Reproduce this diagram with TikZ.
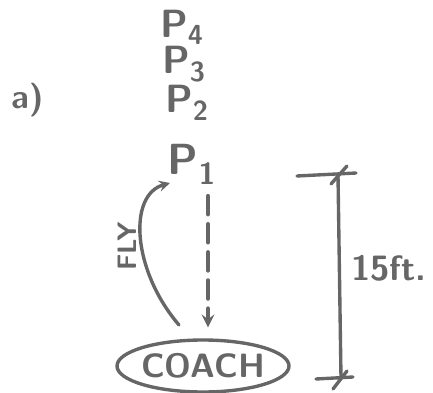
\documentclass[tikz,border=0pt]{standalone}
\definecolor{ink}{HTML}{666666}
\newcommand{\hand}[1]{\fontsize{#1}{#1}\selectfont\sffamily\bfseries}
\begin{document}
\begin{tikzpicture}[x=0.025cm,y=-0.025cm,>=stealth,line join=round,
            line cap=round,line width=2.4pt,draw=ink,text=ink,font=\hand{28pt}]
            \useasboundingbox (0,0) rectangle (433,393);
            % players lined up above the coach
            \node[font=\hand{24pt}] (a) at (28,100) {a)};
            \node (p4) at (182,27) {P\textsubscript{4}};
            \node (p3) at (184,64) {P\textsubscript{3}};
            \node (p2) at (187,103) {P\textsubscript{2}};
            \node[font=\hand{31pt}] (p1) at (192,164) {P\textsubscript{1}};
            \node[font=\hand{24pt}] (coach) at (203,366) {COACH};
            \draw (coach.center) ellipse [x radius=86, y radius=26];
            % ball thrown to the coach
            \coordinate (ball) at (208,196);
            \draw[->,dash pattern=on 13pt off 7pt,line width=3pt,shorten >=14pt]
                (ball) -- (ball |- coach.north);
            % the fly route back up
            \coordinate (fly) at (179,325);
            \draw[->] (fly) .. controls (132,270) and (128,195) .. (170,183);
            \node[rotate=90,font=\hand{19pt}] (flylabel) at (127,246) {FLY};
            % 15 ft distance
            \coordinate (top) at (338,175);
            \coordinate (bot) at (341,378);
            \draw (top) -- (bot);
            \draw (297,176) -- (356,173);
            \draw (331,184) -- (347,166);
            \draw (316,379) -- (353,377);
            \draw (333,389) -- (347,371);
            \node[font=\hand{25pt}] (dist) at (389,268) {15ft.};
        \end{tikzpicture}
\end{document}
